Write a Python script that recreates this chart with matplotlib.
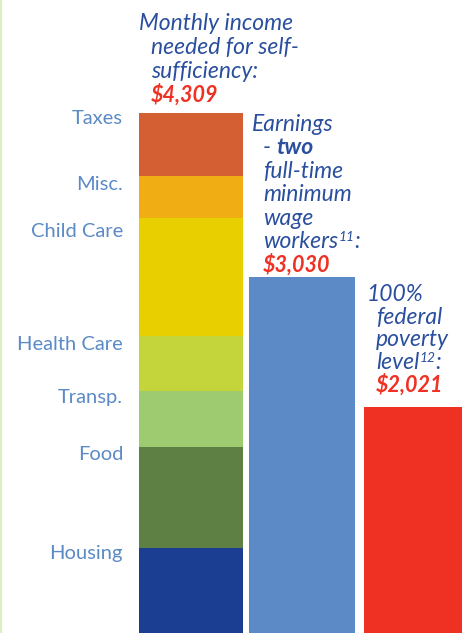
import matplotlib
matplotlib.use("Agg")
import matplotlib.pyplot as plt
from matplotlib.lines import Line2D

# ---------- DATA ----------
categories = ["Housing", "Food", "Transp.", "Health Care", "Child Care", "Misc.", "Taxes"]
budget = [931, 784, 434, 427, 915, 326, 492]          # stacked, sums to 4,309
seg_colors = ["#1B3D92", "#5E8044", "#9FCB70", "#C3D53B", "#E8CF00", "#F0AE14", "#D45F33"]

other_bars = [3030, 2021]
other_colors = ["#5B8AC6", "#EF3124"]

totals = ["$4,309", "$3,030", "$2,021"]
# --------------------------

DARK = "#2A4F9E"
LIGHT = "#5B8AC6"
RED = "#EF3124"
FONT = "Lato"
FS = 16.5      # italic annotation text
FS_VAL = 15.5  # red totals

plt.rcParams["font.family"] = [FONT, "DejaVu Sans"]

W, H = 465, 633
fig = plt.figure(figsize=(W / 100, H / 100), dpi=100)
ax = fig.add_axes([0, 0, 1, 1])
ax.set_xlim(-1.7207, 2.4685)
ax.set_ylim(271.5, 5182)
ax.axis("off")

# stacked budget bar
bottom = 0
for v, col in zip(budget, seg_colors):
    ax.bar(0, v, bottom=bottom, width=0.94, color=col, linewidth=0)
    bottom += v

ax.bar([1, 2], other_bars, width=[0.95, 0.89], color=other_colors, linewidth=0)

# category labels (pixel y centres, right aligned)
label_y = [553, 455, 397, 345, 232, 185, 118]
for name, yy in zip(categories, label_y):
    fig.text(123 / W, 1 - yy / H, name, ha="right", va="center",
             fontsize=14.5, color=LIGHT)

renderer = fig.canvas.get_renderer()


def put_runs(x_px, y_px, parts):
    # draw text pieces one after another on the same baseline
    x = x_px
    for txt, kw in parts:
        kw = dict(kw)
        dy = kw.pop("dy", 0)
        t = fig.text(x / W, 1 - (y_px - dy) / H, txt, ha="left", va="baseline", **kw)
        x += t.get_window_extent(renderer).width


def bar_top(i, v):
    return H - ax.transData.transform((i, v))[1]


it = dict(fontsize=FS, color=DARK, style="italic")
itb = dict(fontsize=FS, color=DARK, style="italic", weight="bold")
sup = dict(fontsize=FS * 0.6, color=DARK, style="italic", dy=7)
val = dict(fontsize=FS_VAL, color=RED, style="italic", weight="bold")


def block(x0, indent, base, step, lines):
    # lines: list of run lists; the last one sits at `base`
    n = len(lines)
    for i, parts in enumerate(lines):
        y = base - (n - 1 - i) * step
        put_runs(x0 if i == 0 else x0 + indent, y, parts)


# self-sufficiency block
block(139, 12, bar_top(0, sum(budget)) - 11, 23.7, [
    [("Monthly income", it)],
    [("needed for self-", it)],
    [("sufficiency:", it)],
    [(totals[0], val)],
])

# two minimum wage earners
block(252, 11, bar_top(1, other_bars[0]) - 6, 23.4, [
    [("Earnings", it)],
    [("- ", it), ("two", itb)],
    [("full-time", it)],
    [("minimum", it)],
    [("wage", it)],
    [("workers", it), ("11", sup), (":", it)],
    [(totals[1], val)],
])

# federal poverty level
block(367, 9, bar_top(2, other_bars[1]) - 16, 22.5, [
    [("100%", it)],
    [("federal", it)],
    [("poverty", it)],
    [("level", it), ("12", sup), (":", it)],
    [(totals[2], val)],
])

# thin green edge on the left
fig.add_artist(Line2D([0.8 / W, 0.8 / W], [0, 1], color="#DCEFC0", lw=1.5))

fig.savefig("out.png", dpi=100, facecolor="white")
